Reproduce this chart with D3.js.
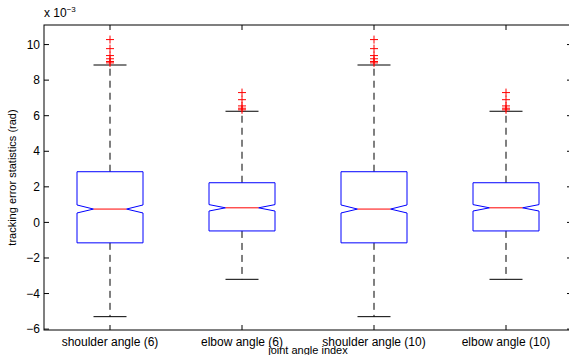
<!DOCTYPE html>
<html>
<head>
<meta charset="utf-8">
<script src="https://cdn.jsdelivr.net/npm/d3@7"></script>
<style>
  body { margin: 0; background: #fff; }
  text { font-family: "Liberation Sans", Arial, sans-serif; font-size: 11px; fill: #000; }
  .tick-label { font-size: 12px; }
</style>
</head>
<body>
<div id="chart"></div>
<script>
// box statistics, values in units of 1e-3 rad
const categories = ['shoulder angle (6)', 'elbow angle (6)', 'shoulder angle (10)', 'elbow angle (10)'];
const q1 = [-1.15, -0.48, -1.15, -0.48];
const medians = [0.75, 0.82, 0.75, 0.82];
const q3 = [2.85, 2.23, 2.85, 2.23];
const notchLow = [0.53, 0.64, 0.53, 0.64];
const notchHigh = [0.98, 1.0, 0.98, 1.0];
const whiskerLow = [-5.3, -3.2, -5.3, -3.2];
const whiskerHigh = [8.85, 6.25, 8.85, 6.25];
const outliers = [
    [10.28, 9.77, 9.38, 9.2, 9.05, 8.97],
    [7.3, 6.9, 6.55, 6.42, 6.33],
    [10.28, 9.77, 9.38, 9.2, 9.05, 8.97],
    [7.3, 6.9, 6.55, 6.42, 6.33]
];
const yTicks = [-6, -4, -2, 0, 2, 4, 6, 8, 10];

const width = 569, height = 355;
const m = { left: 44, right: 572, top: 25, bottom: 330 };

const svg = d3.select('#chart')
    .append('svg')
    .attr('width', width)
    .attr('height', height);

const x = d3.scaleLinear().domain([0.5, 4.5]).range([m.left, m.right]);
const y = d3.scaleLinear().domain([-6.05, 11.1]).range([m.bottom, m.top]);

const boxHalf = 0.25;
const notchHalf = 0.125;
const capHalf = 0.125;

const boxes = categories.map((c, i) => ({
    i: i + 1, q1: q1[i], med: medians[i], q3: q3[i],
    nlo: notchLow[i], nhi: notchHigh[i],
    wlo: whiskerLow[i], whi: whiskerHigh[i], out: outliers[i]
}));

const g = svg.append('g');

// whiskers (dashed)
boxes.forEach(b => {
    g.append('line')
        .attr('x1', x(b.i)).attr('x2', x(b.i))
        .attr('y1', y(b.q3)).attr('y2', y(b.whi))
        .attr('stroke', '#000').attr('stroke-width', 1)
        .attr('stroke-dasharray', '7,5');
    g.append('line')
        .attr('x1', x(b.i)).attr('x2', x(b.i))
        .attr('y1', y(b.q1)).attr('y2', y(b.wlo))
        .attr('stroke', '#000').attr('stroke-width', 1)
        .attr('stroke-dasharray', '7,5');
    [b.whi, b.wlo].forEach(v => {
        g.append('line')
            .attr('x1', x(b.i - capHalf)).attr('x2', x(b.i + capHalf))
            .attr('y1', y(v)).attr('y2', y(v))
            .attr('stroke', '#000').attr('stroke-width', 1);
    });
});

// notched boxes
boxes.forEach(b => {
    const pts = [
        [b.i - boxHalf, b.q1], [b.i + boxHalf, b.q1], [b.i + boxHalf, b.nlo],
        [b.i + notchHalf, b.med], [b.i + boxHalf, b.nhi], [b.i + boxHalf, b.q3],
        [b.i - boxHalf, b.q3], [b.i - boxHalf, b.nhi], [b.i - notchHalf, b.med],
        [b.i - boxHalf, b.nlo]
    ];
    g.append('path')
        .attr('d', d3.line().x(d => x(d[0])).y(d => y(d[1]))(pts) + 'Z')
        .attr('fill', 'none')
        .attr('stroke', '#0000ff')
        .attr('stroke-width', 1);
    g.append('line')
        .attr('x1', x(b.i - notchHalf)).attr('x2', x(b.i + notchHalf))
        .attr('y1', y(b.med)).attr('y2', y(b.med))
        .attr('stroke', '#ff0000').attr('stroke-width', 1);
});

// outliers as red plus signs
boxes.forEach(b => {
    b.out.forEach(v => {
        const cx = x(b.i), cy = y(v);
        g.append('path')
            .attr('d', `M${cx - 4},${cy}H${cx + 4}M${cx},${cy - 4}V${cy + 4}`)
            .attr('stroke', '#ff0000').attr('stroke-width', 1)
            .attr('fill', 'none');
    });
});

// axes frame
svg.append('rect')
    .attr('x', m.left).attr('y', m.top)
    .attr('width', m.right - m.left).attr('height', m.bottom - m.top)
    .attr('fill', 'none').attr('stroke', '#000').attr('stroke-width', 1);

// y ticks, both sides, pointing inward
const yAxis = svg.append('g');
yTicks.forEach(t => {
    yAxis.append('line')
        .attr('x1', m.left).attr('x2', m.left + 5)
        .attr('y1', y(t)).attr('y2', y(t))
        .attr('stroke', '#000');
    yAxis.append('line')
        .attr('x1', m.right - 5).attr('x2', m.right)
        .attr('y1', y(t)).attr('y2', y(t))
        .attr('stroke', '#000');
    yAxis.append('text')
        .attr('class', 'tick-label')
        .attr('x', m.left - 4)
        .attr('y', y(t))
        .attr('dy', '0.35em')
        .attr('text-anchor', 'end')
        .text(t < 0 ? '\u2212' + Math.abs(t) : t);
});

// x ticks, top and bottom
const xAxis = svg.append('g');
categories.forEach((c, i) => {
    xAxis.append('line')
        .attr('x1', x(i + 1)).attr('x2', x(i + 1))
        .attr('y1', m.bottom).attr('y2', m.bottom - 5)
        .attr('stroke', '#000');
    xAxis.append('line')
        .attr('x1', x(i + 1)).attr('x2', x(i + 1))
        .attr('y1', m.top).attr('y2', m.top + 5)
        .attr('stroke', '#000');
    xAxis.append('text')
        .attr('class', 'tick-label')
        .attr('x', x(i + 1))
        .attr('y', m.bottom + 16)
        .attr('text-anchor', 'middle')
        .text(c);
});

// exponent label
const expo = svg.append('text')
    .attr('class', 'tick-label')
    .attr('x', m.left)
    .attr('y', 17);
expo.append('tspan').text('x 10');
expo.append('tspan')
    .attr('dy', -5)
    .style('font-size', '8px')
    .text('\u22123');

// axis labels
svg.append('text')
    .attr('x', (m.left + m.right) / 2)
    .attr('y', 354)
    .attr('text-anchor', 'middle')
    .text('joint angle index');

svg.append('text')
    .attr('transform', `translate(16, ${(m.top + m.bottom) / 2}) rotate(-90)`)
    .attr('text-anchor', 'middle')
    .text('tracking error statistics (rad)');
</script>
</body>
</html>
